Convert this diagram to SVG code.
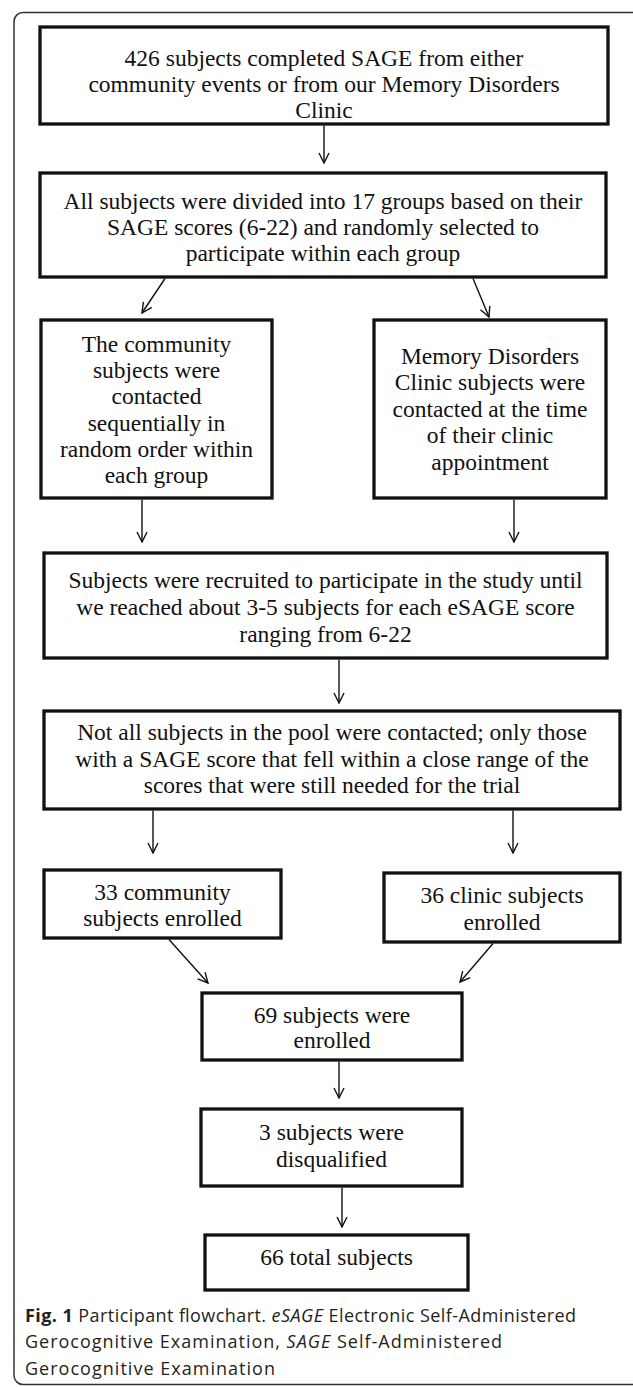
<svg xmlns="http://www.w3.org/2000/svg" width="633" height="1387" viewBox="0 0 633 1387">
<defs>
<style>
.box{fill:#fff;stroke:#111;stroke-width:3.3}
.t{font-family:"Liberation Serif","Times New Roman",serif;font-size:23.5px;fill:#111;text-anchor:middle}
.c{stroke:#111;stroke-width:1.4;fill:none}
.cap{font-family:"Open Sans","Liberation Sans",sans-serif;font-size:18px;fill:#231f20}
</style>
<marker id="ah" viewBox="0 0 12 12" refX="11" refY="6" markerWidth="12" markerHeight="12" markerUnits="userSpaceOnUse" orient="auto">
<path d="M1,1 L11,6 L1,11" fill="none" stroke="#111" stroke-width="1.4"/>
</marker>
</defs>
<rect width="633" height="1387" fill="#fff"/>
<rect id="frame" x="14" y="12.5" width="630" height="1372" rx="9" fill="none" stroke="#333" stroke-width="1.5"/>

<g id="n1"><rect class="box" x="40" y="27" width="568" height="97"/>
<text class="t" x="324" y="66">426 subjects completed SAGE from either</text>
<text class="t" x="324" y="92">community events or from our Memory Disorders</text>
<text class="t" x="324" y="118">Clinic</text></g>

<g id="n2"><rect class="box" x="40" y="173" width="566" height="104"/>
<text class="t" x="323" y="209">All subjects were divided into 17 groups based on their</text>
<text class="t" x="323" y="235">SAGE scores (6-22) and randomly selected to</text>
<text class="t" x="323" y="261">participate within each group</text></g>

<g id="n3"><rect class="box" x="41" y="320" width="231" height="178"/>
<text class="t" x="156.5" y="352">The community</text>
<text class="t" x="156.5" y="378">subjects were</text>
<text class="t" x="156.5" y="404">contacted</text>
<text class="t" x="156.5" y="431">sequentially in</text>
<text class="t" x="156.5" y="457">random order within</text>
<text class="t" x="156.5" y="483">each group</text></g>

<g id="n4"><rect class="box" x="374" y="320" width="232" height="178"/>
<text class="t" x="490" y="364">Memory Disorders</text>
<text class="t" x="490" y="390">Clinic subjects were</text>
<text class="t" x="490" y="417">contacted at the time</text>
<text class="t" x="490" y="443">of their clinic</text>
<text class="t" x="490" y="470">appointment</text></g>

<g id="n5"><rect class="box" x="44" y="553" width="563" height="105"/>
<text class="t" x="325.5" y="588">Subjects were recruited to participate in the study until</text>
<text class="t" x="325.5" y="615">we reached about 3-5 subjects for each eSAGE score</text>
<text class="t" x="325.5" y="642">ranging from 6-22</text></g>

<g id="n6"><rect class="box" x="44" y="711" width="576" height="98"/>
<text class="t" x="332" y="740">Not all subjects in the pool were contacted; only those</text>
<text class="t" x="332" y="767">with a SAGE score that fell within a close range of the</text>
<text class="t" x="332" y="793">scores that were still needed for the trial</text></g>

<g id="n7"><rect class="box" x="44" y="870" width="237" height="68"/>
<text class="t" x="162.5" y="900">33 community</text>
<text class="t" x="162.5" y="926">subjects enrolled</text></g>

<g id="n8"><rect class="box" x="384" y="873" width="236" height="69"/>
<text class="t" x="502" y="903">36 clinic subjects</text>
<text class="t" x="502" y="930">enrolled</text></g>

<g id="n9"><rect class="box" x="202" y="993" width="260" height="67"/>
<text class="t" x="332" y="1023">69 subjects were</text>
<text class="t" x="332" y="1048">enrolled</text></g>

<g id="n10"><rect class="box" x="201" y="1109" width="261" height="77"/>
<text class="t" x="331.5" y="1140">3 subjects were</text>
<text class="t" x="331.5" y="1167">disqualified</text></g>

<g id="n11"><rect class="box" x="205" y="1235" width="263" height="55"/>
<text class="t" x="336.5" y="1265">66 total subjects</text></g>

<g id="connectors">
<line class="c" x1="324" y1="125.5" x2="324" y2="163" marker-end="url(#ah)"/>
<line class="c" x1="165" y1="278.5" x2="142" y2="313" marker-end="url(#ah)"/>
<line class="c" x1="473" y1="278.5" x2="489" y2="317" marker-end="url(#ah)"/>
<line class="c" x1="142" y1="499.5" x2="142" y2="542" marker-end="url(#ah)"/>
<line class="c" x1="514" y1="499.5" x2="514" y2="542" marker-end="url(#ah)"/>
<line class="c" x1="339" y1="659.5" x2="339" y2="703" marker-end="url(#ah)"/>
<line class="c" x1="153" y1="810.5" x2="153" y2="853" marker-end="url(#ah)"/>
<line class="c" x1="513" y1="810.5" x2="513" y2="853" marker-end="url(#ah)"/>
<line class="c" x1="169" y1="939.5" x2="208" y2="983" marker-end="url(#ah)"/>
<line class="c" x1="493" y1="943.5" x2="460" y2="982" marker-end="url(#ah)"/>
<line class="c" x1="339" y1="1061.5" x2="339" y2="1098" marker-end="url(#ah)"/>
<line class="c" x1="342" y1="1187.5" x2="342" y2="1227" marker-end="url(#ah)"/>
</g>

<g id="caption" class="cap">
<text x="25" y="1322" textLength="551" lengthAdjust="spacing"><tspan font-weight="bold">Fig. 1</tspan> Participant flowchart. <tspan font-style="italic">eSAGE</tspan> Electronic Self-Administered</text>
<text x="25" y="1348" textLength="477" lengthAdjust="spacing">Gerocognitive  Examination,  <tspan font-style="italic">SAGE</tspan>  Self-Administered</text>
<text x="25" y="1375" textLength="250" lengthAdjust="spacing">Gerocognitive  Examination</text>
</g>
</svg>
